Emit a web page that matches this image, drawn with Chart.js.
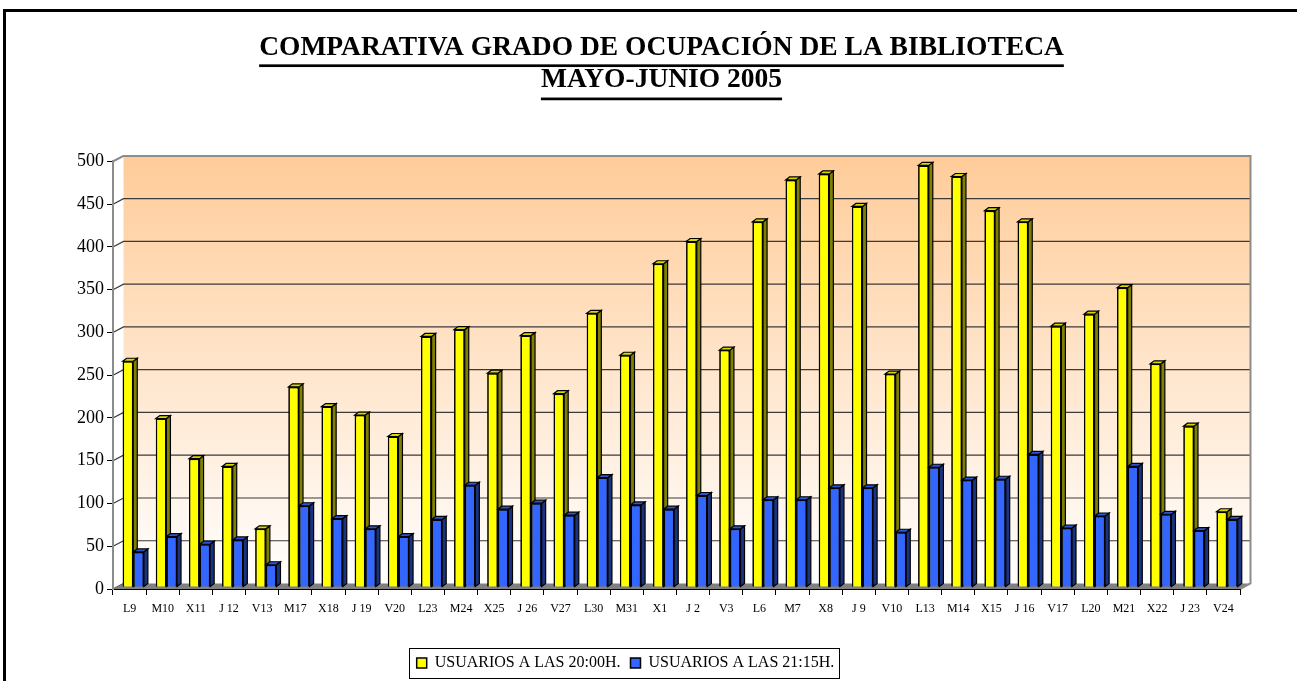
<!DOCTYPE html>
<html>
<head>
<meta charset="utf-8">
<script src="https://cdn.jsdelivr.net/npm/chart.js@4.4.1/dist/chart.umd.min.js"></script>
<style>
  html, body { margin: 0; padding: 0; background: #fff; overflow: hidden; }
  #wrap { width: 1297px; height: 681px; }
</style>
</head>
<body>
<div id="wrap"><canvas id="grafico"></canvas></div>
<script>
const dias = ['L9', 'M10', 'X11', 'J 12', 'V13', 'M17', 'X18', 'J 19', 'V20', 'L23', 'M24', 'X25',
  'J 26', 'V27', 'L30', 'M31', 'X1', 'J 2', 'V3', 'L6', 'M7', 'X8', 'J 9', 'V10', 'L13', 'M14',
  'X15', 'J 16', 'V17', 'L20', 'M21', 'X22', 'J 23', 'V24'];
const usuarios2000 = [264, 197, 150, 141, 68, 234, 211, 201, 176, 293, 301, 250, 294, 226, 320, 271,
  378, 404, 277, 427, 476, 483, 445, 249, 493, 480, 440, 427, 305, 319, 350, 261, 188, 88];
const usuarios2115 = [41, 59, 50, 55, 26, 95, 80, 68, 59, 79, 119, 91, 98, 84, 128, 96,
  91, 107, 68, 102, 102, 116, 116, 64, 140, 125, 126, 155, 69, 83, 141, 85, 66, 79];
const ticksY = { min: 0, max: 500, step: 50 };

const SERIF = 'Liberation Serif';
const PARED = { dx: 10.5, dy: -5.5 };   // depth of back wall
const CARA = { dx: 4, dy: -3 };         // depth of each column
const DESPL = { dx: 3.7, dy: -2 };      // columns sit a bit behind the front axis
const caras = [
  { top: '#d9d900', side: '#808000' },
  { top: '#2a55d5', side: '#1a3380' }
];

// wall, floor, gridlines, frame
const fondo3d = {
  id: 'fondo3d',
  beforeDraw(chart) {
    const ctx = chart.ctx, a = chart.chartArea, y = chart.scales.y;
    ctx.save();
    ctx.fillStyle = '#fff';
    ctx.fillRect(0, 0, chart.width, chart.height);
    // frame
    ctx.fillStyle = '#000';
    ctx.fillRect(3, 9, chart.width, 3);
    ctx.fillRect(3, 9, 3, chart.height);

    const L = a.left + PARED.dx, T = a.top + PARED.dy, R = a.right + PARED.dx, B = a.bottom + PARED.dy;
    const g = ctx.createLinearGradient(0, T, 0, B);
    g.addColorStop(0, '#ffcc99');
    g.addColorStop(1, '#ffffff');
    ctx.fillStyle = g;
    ctx.fillRect(L, T, R - L, B - T);

    ctx.strokeStyle = '#3a3a3a';
    ctx.lineWidth = 1.2;
    y.ticks.forEach(t => {
      const py = y.getPixelForValue(t.value);
      ctx.beginPath();
      ctx.moveTo(a.left, py);
      ctx.lineTo(L, py + PARED.dy);
      if (t.value > ticksY.min && t.value < ticksY.max) ctx.lineTo(R, py + PARED.dy);
      ctx.stroke();
    });

    // floor
    ctx.fillStyle = '#808080';
    ctx.beginPath();
    ctx.moveTo(a.left, a.bottom);
    ctx.lineTo(a.right, a.bottom);
    ctx.lineTo(R, B);
    ctx.lineTo(L, B);
    ctx.closePath();
    ctx.fill();

    // wall outline
    ctx.strokeStyle = '#8c8c8c';
    ctx.lineWidth = 2;
    ctx.beginPath();
    ctx.moveTo(a.left, a.top);
    ctx.lineTo(L, T);
    ctx.lineTo(R, T);
    ctx.lineTo(R, B);
    ctx.lineTo(a.right, a.bottom);
    ctx.stroke();
    ctx.restore();
  },
  afterLayout(chart) {
    // title is centred a little right of the legend in the original
    chart.titleBlock.left += 36;
    chart.titleBlock.right += 36;
  },
  beforeDatasetsDraw(chart) {
    chart.ctx.save();
    chart.ctx.translate(DESPL.dx, DESPL.dy);
  },
  afterDatasetsDraw(chart) {
    const ctx = chart.ctx;
    // redraw columns front to back with their side and top faces
    for (let i = 0; i < dias.length; i++) {
      chart.data.datasets.forEach((ds, d) => {
        const el = chart.getDatasetMeta(d).data[i];
        const l = el.x - el.width / 2, r = el.x + el.width / 2, t = el.y, b = el.base;
        ctx.strokeStyle = '#000';
        ctx.lineWidth = 1.2;
        ctx.fillStyle = caras[d].side;
        ctx.beginPath();
        ctx.moveTo(r, t);
        ctx.lineTo(r + CARA.dx, t + CARA.dy);
        ctx.lineTo(r + CARA.dx, b + CARA.dy);
        ctx.lineTo(r, b);
        ctx.closePath();
        ctx.fill();
        ctx.stroke();
        ctx.fillStyle = caras[d].top;
        ctx.beginPath();
        ctx.moveTo(l, t);
        ctx.lineTo(l + CARA.dx, t + CARA.dy);
        ctx.lineTo(r + CARA.dx, t + CARA.dy);
        ctx.lineTo(r, t);
        ctx.closePath();
        ctx.fill();
        ctx.stroke();
        el.draw(ctx);
      });
    }
    ctx.restore();
  },
  afterDraw(chart) {
    const ctx = chart.ctx;
    ctx.save();
    // underline the title lines
    const tb = chart.titleBlock, f = Chart.helpers.toFont(tb.options.font);
    const cx = (tb.left + tb.right) / 2;
    const y0 = tb.top + tb._padding.top + f.lineHeight / 2;
    const bajo = [16.5, 18];
    ctx.font = f.string;
    ctx.fillStyle = '#000';
    tb.options.text.forEach((txt, k) => {
      const w = ctx.measureText(txt).width;
      ctx.fillRect(cx - w / 2, y0 + k * f.lineHeight + bajo[k], w, 2.7);
    });
    // box round the legend
    const hb = chart.legend.legendHitBoxes;
    if (hb && hb.length) {
      const l = Math.min(...hb.map(h => h.left)) - 8;
      const r = Math.max(...hb.map(h => h.left + h.width)) + 4;
      const t = hb[0].top - 7, b = hb[0].top + hb[0].height + 7;
      ctx.strokeStyle = '#000';
      ctx.lineWidth = 1;
      ctx.strokeRect(Math.round(l) + 0.5, Math.round(t) + 0.5, Math.round(r - l), Math.round(b - t));
    }
    ctx.restore();
  }
};

new Chart(document.getElementById('grafico'), {
  type: 'bar',
  data: {
    labels: dias,
    datasets: [{
      label: 'USUARIOS A LAS 20:00H.',
      data: usuarios2000,
      backgroundColor: '#ffff00',
      borderColor: '#000',
      borderWidth: 1.5
    }, {
      label: 'USUARIOS A LAS 21:15H.',
      data: usuarios2115,
      backgroundColor: '#3366ff',
      borderColor: '#000',
      borderWidth: 1.5
    }]
  },
  options: {
    responsive: true,
    maintainAspectRatio: false,
    animation: false,
    layout: { padding: { left: 11, right: 57, top: 0, bottom: 0 } },
    datasets: { bar: { barPercentage: 1, categoryPercentage: 0.64 } },
    plugins: {
      title: {
        display: true,
        text: ['COMPARATIVA GRADO DE OCUPACIÓN DE LA BIBLIOTECA', 'MAYO-JUNIO 2005'],
        color: '#000',
        font: { family: SERIF, size: 27.5, weight: 'bold', lineHeight: '31.7px' },
        padding: { top: 32, bottom: 66 }
      },
      legend: {
        position: 'bottom',
        labels: {
          color: '#000',
          font: { family: SERIF, size: 16 },
          boxWidth: 10,
          boxHeight: 10,
          padding: 10
        }
      },
      tooltip: { enabled: false }
    },
    scales: {
      x: {
        ticks: { color: '#000', font: { family: SERIF, size: 12 }, padding: 7, maxRotation: 0, autoSkip: false },
        grid: { drawOnChartArea: false, color: '#000', tickLength: 6, offset: true },
        border: { color: '#000', width: 1 },
        afterFit: s => { s.height = 56; }
      },
      y: {
        min: ticksY.min,
        max: ticksY.max,
        ticks: { stepSize: ticksY.step, color: '#000', font: { family: SERIF, size: 18 }, padding: 3 },
        grid: { drawOnChartArea: false, color: '#000', tickLength: 6 },
        border: { color: '#8c8c8c', width: 2 },
        afterFit: s => { s.width = 102; }
      }
    }
  },
  plugins: [fondo3d]
});
</script>
</body>
</html>
